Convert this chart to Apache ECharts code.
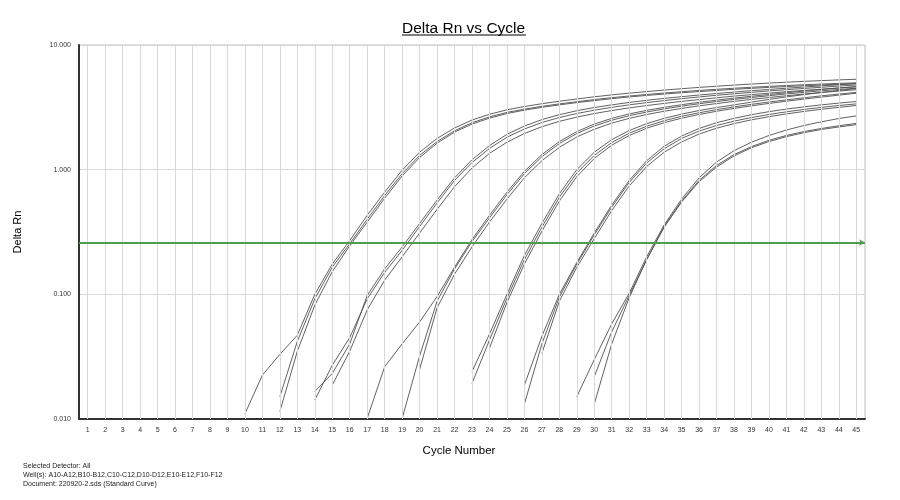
<!DOCTYPE html>
<html>
<head>
<meta charset="utf-8">
<script src="https://cdn.jsdelivr.net/npm/echarts@6/dist/echarts.min.js"></script>
<style>html,body{margin:0;padding:0;background:#fff;}#chart{width:900px;height:500px;}</style>
</head>
<body>
<div id="chart"></div>
<script>
const cycles = [1,2,3,4,5,6,7,8,9,10,11,12,13,14,15,16,17,18,19,20,21,22,23,24,25,26,27,28,29,30,31,32,33,34,35,36,37,38,39,40,41,42,43,44,45];
const threshold = 0.255;
const wells = ['A10','A11','A12','B10','B11','B12','C10','C11','C12','D10','D11','D12','E10','E11','E12','F10','F11','F12'];
const startCycle = [10,12,12,14,14,15,17,19,20,23,23,24,26,26,27,29,30,30];

const rnA10 = [0.011,0.0225,0.033,0.047,0.100,0.175,0.27,0.43,0.66,0.99,1.38,1.78,2.16,2.50,2.78,3.02,3.21,3.38,3.54,3.69,3.84,3.98,4.11,4.23,4.35,4.46,4.57,4.67,4.77,4.86,4.95,5.03,5.11,5.18,5.25,5.31];
const rnA11 = [0.0151,0.042,0.092,0.165,0.255,0.40,0.62,0.93,1.30,1.68,2.05,2.38,2.65,2.88,3.06,3.22,3.37,3.51,3.65,3.78,3.90,4.01,4.12,4.22,4.32,4.41,4.50,4.58,4.66,4.73,4.80,4.86,4.92,4.97];
const rnA12 = [0.0115,0.035,0.082,0.152,0.245,0.38,0.59,0.89,1.25,1.63,2.00,2.32,2.59,2.82,3.00,3.16,3.31,3.45,3.58,3.71,3.83,3.94,4.04,4.14,4.23,4.32,4.41,4.49,4.57,4.64,4.71,4.78,4.84,4.90];
const rnB10 = [0.0166,0.0232,0.040,0.098,0.16,0.24,0.37,0.57,0.86,1.20,1.56,1.92,2.24,2.52,2.76,2.97,3.15,3.31,3.46,3.60,3.73,3.85,3.97,4.08,4.19,4.30,4.40,4.50,4.60,4.70,4.80,4.90];
const rnB11 = [0.0142,0.027,0.045,0.092,0.15,0.225,0.35,0.54,0.82,1.14,1.48,1.82,2.12,2.39,2.62,2.82,3.00,3.16,3.31,3.45,3.58,3.71,3.83,3.95,4.06,4.17,4.28,4.38,4.48,4.58,4.68,4.78];
const rnB12 = [0.0187,0.035,0.075,0.13,0.20,0.31,0.48,0.73,1.03,1.35,1.66,1.95,2.21,2.44,2.64,2.82,2.98,3.13,3.27,3.40,3.53,3.65,3.77,3.89,4.00,4.11,4.22,4.32,4.42,4.52,4.62];
const rnC10 = [0.0101,0.0263,0.040,0.060,0.096,0.165,0.275,0.43,0.66,0.97,1.32,1.68,2.02,2.32,2.58,2.80,2.99,3.16,3.32,3.47,3.61,3.75,3.88,4.01,4.14,4.27,4.40,4.52,4.64];
const rnC11 = [0.0101,0.032,0.088,0.16,0.265,0.41,0.63,0.93,1.27,1.62,1.95,2.24,2.49,2.71,2.90,3.07,3.23,3.38,3.52,3.66,3.79,3.92,4.05,4.17,4.29,4.40,4.50];
const rnC12 = [0.025,0.078,0.145,0.24,0.38,0.58,0.86,1.18,1.51,1.83,2.11,2.36,2.58,2.77,2.94,3.10,3.25,3.39,3.53,3.66,3.79,3.92,4.04,4.16,4.27,4.38];
const rnD10 = [0.024,0.048,0.100,0.205,0.37,0.64,1.00,1.38,1.74,2.06,2.34,2.58,2.79,2.98,3.15,3.31,3.48,3.66,3.83,4.00,4.16,4.32,4.48];
const rnD11 = [0.0193,0.043,0.093,0.19,0.345,0.60,0.94,1.30,1.65,1.96,2.23,2.47,2.68,2.86,3.03,3.19,3.34,3.49,3.63,3.77,3.91,4.04,4.17];
const rnD12 = [0.037,0.086,0.175,0.32,0.56,0.88,1.23,1.57,1.88,2.15,2.38,2.59,2.77,2.94,3.10,3.25,3.40,3.54,3.68,3.82,3.96,4.10];
const rnE10 = [0.0187,0.046,0.10,0.18,0.31,0.52,0.82,1.18,1.54,1.86,2.14,2.38,2.58,2.76,2.92,3.06,3.19,3.31,3.42,3.52];
const rnE11 = [0.0132,0.040,0.095,0.175,0.30,0.50,0.79,1.13,1.47,1.78,2.04,2.26,2.45,2.62,2.77,2.91,3.04,3.16,3.27,3.37];
const rnE12 = [0.0336,0.088,0.165,0.28,0.47,0.74,1.06,1.38,1.67,1.93,2.15,2.34,2.51,2.66,2.80,2.93,3.05,3.16,3.27];
const rnF10 = [0.0151,0.030,0.058,0.102,0.20,0.36,0.58,0.86,1.15,1.42,1.66,1.88,2.08,2.26,2.42,2.57,2.70];
const rnF11 = [0.0219,0.050,0.098,0.19,0.35,0.56,0.82,1.08,1.32,1.53,1.72,1.88,2.02,2.14,2.25,2.35];
const rnF12 = [0.0132,0.040,0.094,0.19,0.345,0.55,0.80,1.05,1.29,1.50,1.68,1.84,1.98,2.10,2.20,2.30];

const curves = [rnA10,rnA11,rnA12,rnB10,rnB11,rnB12,rnC10,rnC11,rnC12,rnD10,rnD11,rnD12,rnE10,rnE11,rnE12,rnF10,rnF11,rnF12];
const footerLines = ['Selected Detector: All','Well(s): A10-A12,B10-B12,C10-C12,D10-D12,E10-E12,F10-F12','Document: 220920-2.sds (Standard Curve)'];

const FONT = "'Liberation Sans', Arial, sans-serif";
const chart = echarts.init(document.getElementById('chart'), null, {renderer: 'canvas'});

const series = [];
series.push({
  name: 'grid', type: 'line', data: [], z: 1, silent: true,
  markLine: {
    silent: true, symbol: ['none','none'], animation: false,
    label: {show: false},
    lineStyle: {color: '#d9d9d9', width: 1, type: 'solid'},
    emphasis: {disabled: true},
    data: cycles.map(c => ({xAxis: String(c)}))
  }
});
curves.forEach((vals, k) => {
  series.push({
    name: wells[k], type: 'line', z: 3, symbol: 'none', smooth: false, clip: true,
    lineStyle: {color: '#505050', width: 0.9},
    emphasis: {disabled: true},
    data: vals.map((v, i) => [String(startCycle[k] + i), v])
  });
});
series.push({
  name: 'threshold', type: 'line', data: [], z: 4, silent: true,
  markLine: {
    silent: true, symbol: ['none','arrow'], symbolSize: [5, 6], animation: false,
    label: {show: false},
    lineStyle: {color: '#4e9e4e', width: 2, type: 'solid'},
    emphasis: {disabled: true},
    data: [{yAxis: threshold}]
  }
});

chart.setOption({
  animation: false,
  backgroundColor: '#fff',
  title: [
    {text: 'Delta Rn vs Cycle', left: 397, top: 15.5, padding: 5,
     textStyle: {fontFamily: FONT, fontSize: 15.5, fontWeight: 'normal', color: '#000'}},
    {text: footerLines.join('\n'), left: 18, top: 456, padding: 5,
     textStyle: {fontFamily: FONT, fontSize: 7, fontWeight: 'normal', color: '#222', lineHeight: 9.3}}
  ],
  graphic: [
    {type: 'line', shape: {x1: 402, y1: 35, x2: 526, y2: 35}, style: {stroke: '#000', lineWidth: 1}}
  ],
  grid: {left: 79, right: 35, top: 45, bottom: 81, show: true, borderColor: '#bdbdbd', borderWidth: 1, backgroundColor: '#fff'},
  xAxis: {
    type: 'category', data: cycles.map(String), boundaryGap: true,
    name: 'Cycle Number', nameLocation: 'middle', nameGap: 26,
    nameTextStyle: {fontFamily: FONT, fontSize: 11.5, color: '#000', padding: [0, 26, 0, 0]},
    axisLine: {show: true, lineStyle: {color: '#333', width: 2}},
    axisTick: {show: false},
    splitLine: {show: false},
    axisLabel: {interval: 0, fontFamily: FONT, fontSize: 7, color: '#333', margin: 8}
  },
  yAxis: {
    type: 'log', logBase: 10, min: 0.01, max: 10,
    name: 'Delta Rn', nameLocation: 'middle', nameGap: 56, nameRotate: 90,
    nameTextStyle: {fontFamily: FONT, fontSize: 11, color: '#000'},
    axisLine: {show: true, lineStyle: {color: '#333', width: 2}},
    axisTick: {show: false},
    splitLine: {show: true, lineStyle: {color: '#d9d9d9', width: 1}},
    axisLabel: {fontFamily: FONT, fontSize: 7, color: '#333', margin: 8,
      formatter: v => Number(v).toFixed(3)}
  },
  series: series
});
</script>
</body>
</html>
